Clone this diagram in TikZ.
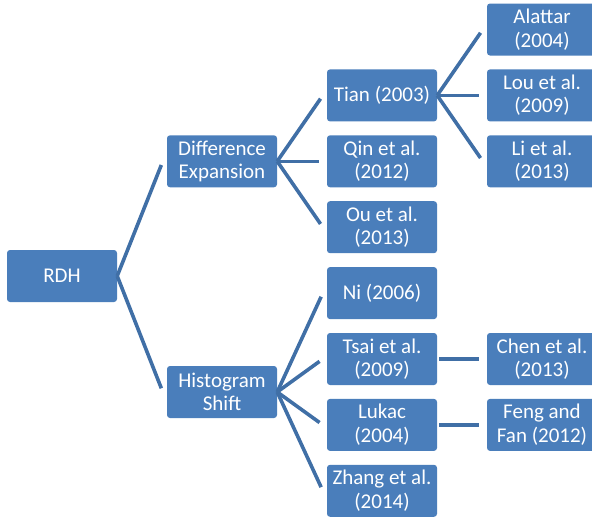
\documentclass[tikz,border=0pt]{standalone}
\usepackage{fontspec}
\setmainfont{Carlito}
\definecolor{boxblue}{RGB}{74,126,187}
\definecolor{lineblue}{RGB}{64,111,166}
\begin{document}
\begin{tikzpicture}[x=1pt,y=-1pt,
  box/.style={fill=boxblue,draw=none,rounded corners=3pt,minimum width=110pt,minimum height=52pt,
    inner sep=0pt,align=center,text=white,font=\fontsize{21pt}{23.5pt}\selectfont},
  link/.style={draw=lineblue,line width=3.6pt,shorten >=4pt}]
\useasboundingbox (0,0) rectangle (592,517);
\begin{scope}
\clip (0,0) rectangle (592,517);
\node[box] (rdh) at (62,276) {RDH};
\node[box] (de) at (222,161.3) {Difference\\Expansion};
\node[box] (hs) at (222,392) {Histogram\\Shift};
\node[box] (tian) at (382,95.4) {Tian (2003)};
\node[box] (qin) at (382,161.3) {Qin et al.\\(2012)};
\node[box] (ou) at (382,227.2) {Ou et al.\\(2013)};
\node[box] (ni) at (382,293.1) {Ni (2006)};
\node[box] (tsai) at (382,359) {Tsai et al.\\(2009)};
\node[box] (lukac) at (382,424.9) {Lukac\\(2004)};
\node[box] (zhang) at (382,490.8) {Zhang et al.\\(2014)};
\node[box] (alattar) at (542,29.5) {Alattar\\(2004)};
\node[box] (lou) at (542,95.4) {Lou et al.\\(2009)};
\node[box] (li) at (542,161.3) {Li et al.\\(2013)};
\node[box] (chen) at (542,359) {Chen et al.\\(2013)};
\node[box] (feng) at (542,424.9) {Feng and\\Fan (2012)};
\end{scope}
\foreach \p/\c in {rdh/de,rdh/hs,de/tian,de/qin,de/ou,hs/ni,hs/tsai,hs/lukac,hs/zhang,tian/alattar,tian/lou,tian/li}
  \draw[link] (\p.east) -- ([xshift=-4pt]\c.west);
\foreach \p/\c in {tsai/chen,lukac/feng}
  \draw[link,shorten <=2pt] (\p.east) -- ([xshift=-4pt]\c.west);
\end{tikzpicture}
\end{document}
